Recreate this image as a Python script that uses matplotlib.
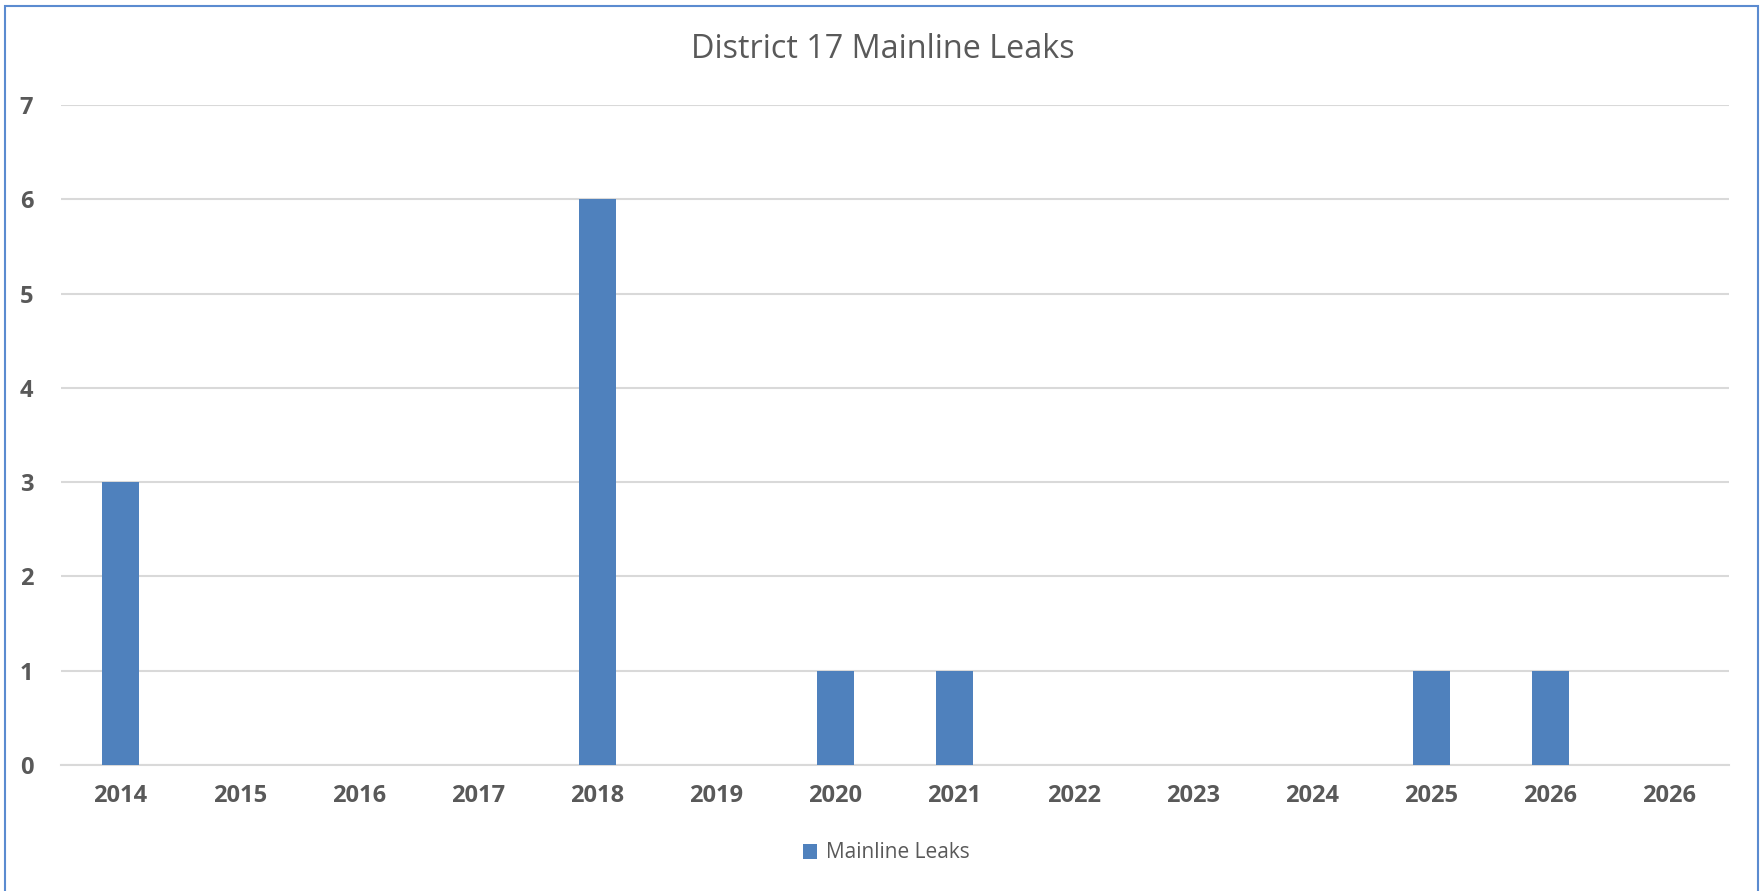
from matplotlib import pyplot as plt
from matplotlib.patches import Rectangle
import numpy as np

# data
years = ['2014', '2015', '2016', '2017', '2018', '2019', '2020', '2021',
         '2022', '2023', '2024', '2025', '2026', '2026']
leaks = [3, 0, 0, 0, 6, 0, 1, 1, 0, 0, 0, 1, 1, 0]
y_ticks = [0, 1, 2, 3, 4, 5, 6, 7]

plt.rcParams['font.family'] = ['Open Sans', 'DejaVu Sans']

fig = plt.figure(figsize=(17.65, 8.91), dpi=100)
ax = fig.add_axes([61/1765, 1 - 765/891, (1729 - 61)/1765, (765 - 105)/891])

x = np.arange(len(years))
ax.bar(x, leaks, width=0.31, color='#4F81BD', label='Mainline Leaks', zorder=3)

ax.set_xlim(-0.5, len(years) - 0.5)
ax.set_ylim(0, 7)
ax.set_yticks(y_ticks)
ax.set_xticks(x)
ax.set_xticklabels(years)

ax.grid(axis='y', color='#D9D9D9', linewidth=1.5, zorder=0)
for s in ['top', 'right', 'left']:
	ax.spines[s].set_visible(False)
ax.spines['bottom'].set_color('#D9D9D9')
ax.spines['bottom'].set_linewidth(1.5)

ax.tick_params(axis='both', length=0, labelcolor='#595959', labelsize=17)
ax.tick_params(axis='y', pad=20)
ax.tick_params(axis='x', pad=14)
for lab in ax.get_xticklabels() + ax.get_yticklabels():
	lab.set_fontweight('bold')

fig.text(0.5, 1 - 50/891, 'District 17 Mainline Leaks', ha='center', va='center',
         fontsize=23.3, color='#595959')

leg = fig.legend(loc='center', bbox_to_anchor=(886/1765, 1 - 853/891), frameon=False,
                 fontsize=15, handlelength=0.7, handleheight=0.7, handletextpad=0.4)
for t in leg.get_texts():
	t.set_color('#595959')

# chart frame, bottom edge falls outside the picture
fig.patches.append(Rectangle((5/1765, -0.02), (1758 - 5)/1765, 1.02 - 6/891, transform=fig.transFigure,
                             fill=False, edgecolor='#5B8BD0', linewidth=1.5))

fig.savefig('out.png', dpi=100)
